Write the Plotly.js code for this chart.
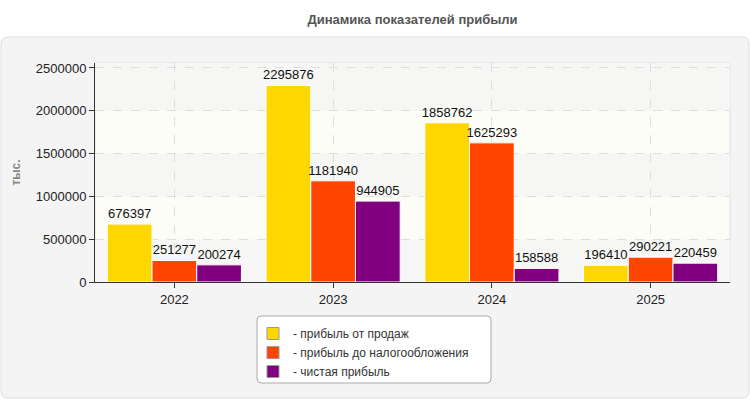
<!DOCTYPE html>
<html>
<head>
<meta charset="utf-8">
<script src="https://cdn.plot.ly/plotly-3.0.1.min.js"></script>
<style>
  html, body { margin: 0; padding: 0; background: #ffffff; }
  #chart { width: 750px; height: 400px; }
</style>
</head>
<body>
<div id="chart"></div>
<script>
// Годы и показатели прибыли, тыс.
const years = ['2022', '2023', '2024', '2025'];
const salesProfit = [676397, 2295876, 1858762, 196410];
const preTaxProfit = [251277, 1181940, 1625293, 290221];
const netProfit = [200274, 944905, 158588, 220459];

const seriesNames = ['- прибыль от продаж', '- прибыль до налогообложения', '- чистая прибыль'];
const seriesColors = ['#FFD700', '#FF4500', '#800080'];
const seriesValues = [salesProfit, preTaxProfit, netProfit];

const FONT = 'Liberation Sans, Arial, sans-serif';

// Bars with value labels; legend entries come from the keys below
const traces = seriesValues.map((vals, i) => ({
  type: 'bar',
  name: seriesNames[i],
  legendgroup: 's' + i,
  showlegend: false,
  x: years,
  y: vals,
  text: vals.map(v => String(v)),
  textposition: 'outside',
  cliponaxis: false,
  constraintext: 'none',
  textfont: { family: FONT, size: 13, color: '#111111' },
  marker: { color: seriesColors[i], line: { color: '#ffffff', width: 1 } },
  hoverinfo: 'x+y'
}));

// Legend keys: same colours, outlined in grey, on a hidden pair of axes
seriesNames.forEach((name, i) => {
  traces.push({
    type: 'bar',
    name: name,
    legendgroup: 's' + i,
    showlegend: true,
    xaxis: 'x2',
    yaxis: 'y2',
    x: [null],
    y: [null],
    marker: { color: seriesColors[i], line: { color: '#999999', width: 1 } },
    hoverinfo: 'skip'
  });
});

// Plot geometry in pixels, used to place decorations in paper units
const L = 95, R = 20, T = 63, B = 118, W = 750, H = 400;
const pw = W - L - R, ph = H - T - B;
const px = x => (x - L) / pw;
const py = y => (H - B - y) / ph;

function roundedRect(x0, y0, x1, y1, r) {
  const X0 = px(x0), X1 = px(x1), Y0 = py(y0), Y1 = py(y1);
  const rx = r / pw, ry = r / ph;
  return `M ${X0 + rx} ${Y0} L ${X1 - rx} ${Y0} Q ${X1} ${Y0} ${X1} ${Y0 - ry} ` +
         `L ${X1} ${Y1 + ry} Q ${X1} ${Y1} ${X1 - rx} ${Y1} ` +
         `L ${X0 + rx} ${Y1} Q ${X0} ${Y1} ${X0} ${Y1 + ry} ` +
         `L ${X0} ${Y0 - ry} Q ${X0} ${Y0} ${X0 + rx} ${Y0} Z`;
}

const yMax = 2558000;
const bandEdges = [0, 500000, 1000000, 1500000, 2000000, yMax];
const shapes = [
  {
    type: 'path', xref: 'paper', yref: 'paper', layer: 'below',
    path: roundedRect(1, 37, 749, 398, 7),
    fillcolor: '#f4f4f4', line: { color: '#dddddd', width: 1 }
  },
  {
    type: 'rect', xref: 'paper', yref: 'paper', layer: 'below',
    x0: 0, x1: 1, y0: 0, y1: 1,
    fillcolor: '#fdfdf8', line: { color: '#dddddd', width: 1 }
  },
  {
    type: 'path', xref: 'paper', yref: 'paper', layer: 'below',
    path: roundedRect(257, 316, 491, 383, 4),
    fillcolor: '#ffffff', line: { color: '#aaaaaa', width: 1 }
  }
];
// Alternating shaded bands between grid lines
for (let i = 0; i < bandEdges.length - 1; i += 2) {
  shapes.push({
    type: 'rect', xref: 'paper', yref: 'y', layer: 'below',
    x0: 0, x1: 1, y0: bandEdges[i], y1: bandEdges[i + 1],
    fillcolor: '#f6f6f4', line: { width: 0 }
  });
}

const layout = {
  width: W, height: H,
  margin: { l: L, r: R, t: T, b: B, pad: 0 },
  paper_bgcolor: '#ffffff',
  plot_bgcolor: 'rgba(0,0,0,0)',
  font: { family: FONT, size: 13, color: '#222222' },
  title: {
    text: 'Динамика показателей прибыли',
    font: { family: FONT, size: 13, color: '#555555', weight: 'bold' },
    x: 0.5, xanchor: 'center', xref: 'paper',
    y: 1 - 19 / H, yanchor: 'middle', yref: 'container'
  },
  barmode: 'group',
  bargap: 0.155,
  bargroupgap: 0,
  showlegend: true,
  legend: {
    orientation: 'v',
    x: px(253), xanchor: 'left',
    y: py(319), yanchor: 'top',
    bgcolor: 'rgba(0,0,0,0)',
    borderwidth: 0,
    font: { family: FONT, size: 12, color: '#333333' },
    tracegroupgap: 0,
    itemwidth: 30
  },
  xaxis: {
    type: 'category',
    range: [-0.5, 3.5],
    showgrid: true, gridcolor: '#dddddd', griddash: 'dash', gridwidth: 1,
    showline: true, linecolor: '#333333', linewidth: 1,
    ticks: 'outside', ticklen: 5, tickcolor: '#333333',
    tickfont: { family: FONT, size: 13, color: '#222222' },
    zeroline: false, fixedrange: true
  },
  yaxis: {
    range: [0, yMax],
    dtick: 500000, tick0: 0,
    tickformat: 'd',
    showgrid: true, gridcolor: '#dddddd', griddash: 'dash', gridwidth: 1,
    showline: true, linecolor: '#333333', linewidth: 1,
    ticks: 'outside', ticklen: 5, tickcolor: '#333333',
    tickfont: { family: FONT, size: 13, color: '#222222' },
    zeroline: false, fixedrange: true,
    title: {
      text: 'тыс.',
      font: { family: FONT, size: 12, color: '#888888', weight: 'bold' },
      standoff: 12
    }
  },
  xaxis2: { overlaying: 'x', visible: false, fixedrange: true },
  yaxis2: { overlaying: 'y', visible: false, fixedrange: true },
  shapes: shapes
};

Plotly.newPlot('chart', traces, layout, { displayModeBar: false, staticPlot: true });
</script>
</body>
</html>
